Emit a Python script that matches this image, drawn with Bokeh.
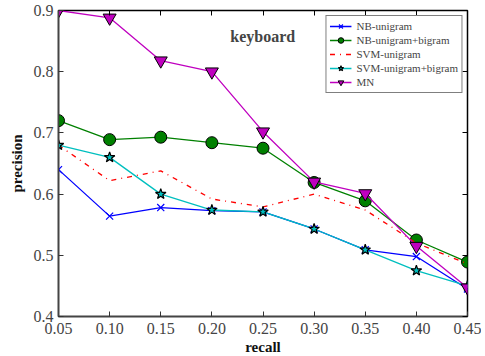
from bokeh.plotting import figure
from bokeh.models import LinearAxis, FixedTicker, Label, Range1d, CustomJSTickFormatter
from bokeh.embed import file_html
from bokeh.resources import INLINE

recall = [0.05, 0.10, 0.15, 0.20, 0.25, 0.30, 0.35, 0.40, 0.45]
nb_uni = [0.640, 0.564, 0.578, 0.573, 0.571, 0.543, 0.509, 0.498, 0.445]
nb_unibi = [0.720, 0.689, 0.693, 0.684, 0.675, 0.619, 0.589, 0.525, 0.489]
svm_uni = [0.680, 0.622, 0.638, 0.592, 0.579, 0.600, 0.574, 0.520, 0.486]
svm_unibi = [0.680, 0.660, 0.600, 0.574, 0.571, 0.543, 0.509, 0.475, 0.450]
mn = [0.900, 0.888, 0.818, 0.800, 0.702, 0.620, 0.601, 0.515, 0.447]
x_ticks = [0.05, 0.10, 0.15, 0.20, 0.25, 0.30, 0.35, 0.40, 0.45]
y_ticks = [0.4, 0.5, 0.6, 0.7, 0.8, 0.9]
title_text = "keyboard"

FONT = "Liberation Serif"

p = figure(frame_width=409, frame_height=306, output_backend="svg",
           toolbar_location=None, x_range=Range1d(0.05, 0.45),
           y_range=Range1d(0.4, 0.9),
           min_border_left=58, min_border_right=14, min_border_top=10,
           min_border_bottom=36)
p.xgrid.visible = False
p.ygrid.visible = False
p.outline_line_color = "black"
p.outline_line_width = 1.5

for ax in p.xaxis + p.yaxis:
    ax.major_tick_in = 5
    ax.major_tick_out = 0
    ax.minor_tick_in = 0
    ax.minor_tick_out = 0
    ax.axis_line_color = "#444444"
    ax.axis_line_width = 1.5
    ax.major_tick_line_color = "#333333"
    ax.major_label_text_font = FONT
    ax.major_label_text_font_size = "16px"
    ax.major_label_text_color = "#444444"
    ax.axis_label_text_font = FONT
    ax.axis_label_text_font_size = "15px"
    ax.axis_label_text_font_style = "bold"
    ax.axis_label_text_color = "#111111"
p.xaxis.ticker = FixedTicker(ticks=x_ticks)
p.yaxis.ticker = FixedTicker(ticks=y_ticks)
p.xaxis.formatter = CustomJSTickFormatter(code="return tick.toFixed(2);")
p.yaxis.formatter = CustomJSTickFormatter(code="return tick.toFixed(1);")
p.xaxis.axis_label = "recall"
p.yaxis.axis_label = "precision"
p.xaxis.axis_label_standoff = 2
p.yaxis.axis_label_standoff = 6
p.xaxis.major_label_standoff = 6
p.yaxis.major_label_standoff = 5

top = LinearAxis(ticker=FixedTicker(ticks=x_ticks), major_label_text_alpha=0,
                 major_tick_in=5, major_tick_out=0, minor_tick_in=0, minor_tick_out=0,
                 axis_line_color=None, major_label_text_font_size="1px")
right = LinearAxis(ticker=FixedTicker(ticks=y_ticks), major_label_text_alpha=0,
                   major_tick_in=5, major_tick_out=0, minor_tick_in=0, minor_tick_out=0,
                   axis_line_color=None, major_label_text_font_size="1px")
p.add_layout(top, "above")
p.add_layout(right, "right")

p.line(recall, nb_uni, color="#0000FF", line_width=1.3, legend_label="NB-unigram")
p.scatter(recall, nb_uni, marker="x", size=10, line_color="#0000FF", line_width=1.2,
          legend_label="NB-unigram")

p.line(recall, nb_unibi, color="#008000", line_width=1.3, legend_label="NB-unigram+bigram")
p.scatter(recall, nb_unibi, marker="circle", size=12, fill_color="#008000",
          line_color="black", line_width=1, legend_label="NB-unigram+bigram")

p.line(recall, svm_uni, color="#FF0000", line_width=1.3, line_dash="5 5 1 5",
       legend_label="SVM-unigram")

p.line(recall, svm_unibi, color="#00BFBF", line_width=1.3, legend_label="SVM-unigram+bigram")
p.scatter(recall, svm_unibi, marker="star", size=11, fill_color="#00BFBF",
          line_color="black", line_width=1.2, legend_label="SVM-unigram+bigram")

p.line(recall, mn, color="#BF00BF", line_width=1.3, legend_label="MN")
p.scatter(recall, mn, marker="inverted_triangle", size=13, fill_color="#BF00BF",
          line_color="black", line_width=1, legend_label="MN")

p.add_layout(Label(x=0.218, y=0.857, text=title_text, text_font=FONT,
                   text_font_size="16px", text_font_style="bold",
                   text_baseline="middle"))

lg = p.legend[0]
lg.location = "top_right"
lg.margin = 5
lg.padding = 3
lg.spacing = 0
lg.glyph_height = 14
lg.glyph_width = 22
lg.label_height = 14
lg.label_standoff = 5
lg.label_text_font = FONT
lg.label_text_font_size = "11px"
lg.border_line_color = "black"
lg.border_line_width = 1.2
lg.background_fill_alpha = 1

open("out.html", "w").write(file_html(p, INLINE))
